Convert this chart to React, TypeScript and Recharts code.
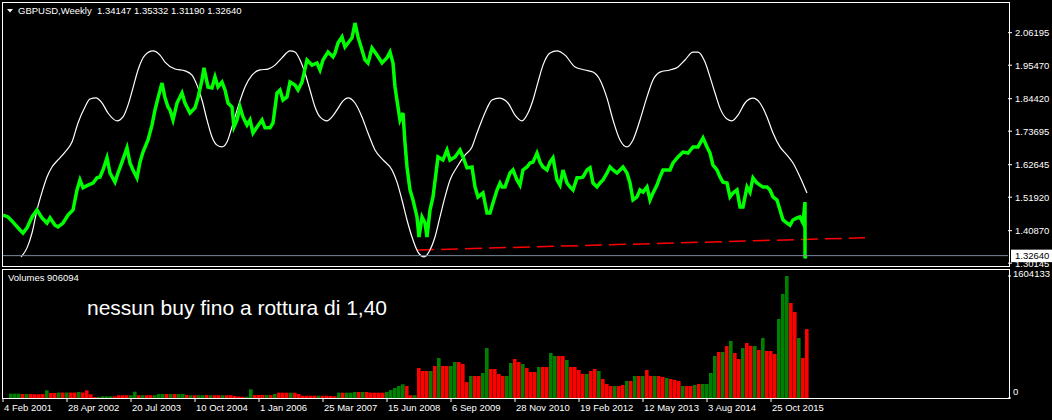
import { ComposedChart, Line, Bar, Cell, XAxis, YAxis, ReferenceLine } from "recharts";

const FONT = "'Liberation Sans', Arial, sans-serif";
const SMALL = 9.5;

// weekly GBPUSD closes, x = weeks since 4 Feb 2001
const priceWeek = [
  0, 5, 10, 17, 20, 24, 29, 34, 39, 44, 47, 52, 55, 60, 65, 70, 74, 77, 80, 85,
  90, 94, 97, 100, 104, 107, 112, 115, 119, 124, 127, 130, 134, 137, 140, 145, 149, 152, 155, 159,
  162, 165, 167, 170, 174, 179, 182, 187, 192, 195, 199, 201, 205, 209, 212, 215, 219, 222, 225, 229,
  231, 234, 237, 240, 244, 247, 250, 254, 259, 262, 267, 270, 274, 277, 280, 284, 287, 292, 295, 299,
  304, 309, 314, 317, 320, 325, 330, 332, 335, 339, 342, 345, 349, 352, 355, 359, 362, 365, 369, 374,
  379, 384, 387, 390, 392, 395, 397, 400, 402, 404, 407, 410, 414, 416, 419, 422, 424, 427, 430, 433,
  435, 440, 444, 447, 452, 457, 460, 464, 469, 472, 475, 480, 484, 487, 490, 494, 497, 499, 502, 507,
  510, 514, 517, 520, 524, 527, 530, 534, 537, 540, 544, 547, 550, 554, 557, 560, 564, 567, 570, 574,
  577, 580, 584, 587, 590, 594, 597, 600, 604, 607, 610, 614, 617, 620, 624, 627, 630, 634, 637, 640,
  644, 647, 650, 654, 657, 660, 667, 670, 675, 680, 685, 690, 695, 700, 704, 707, 710, 714, 717, 720,
  724, 727, 730, 734, 737, 740, 744, 747, 750, 754, 757, 760, 764, 767, 770, 774, 777, 780, 784, 787,
  790, 794, 797, 800, 802, 802, 803,
];
const priceClose = [
  1.460, 1.454, 1.437, 1.411, 1.401, 1.418, 1.454, 1.477, 1.451, 1.434, 1.451, 1.427, 1.421, 1.434, 1.460, 1.477, 1.543, 1.576, 1.550, 1.559,
  1.566, 1.583, 1.586, 1.609, 1.649, 1.599, 1.569, 1.599, 1.635, 1.682, 1.632, 1.609, 1.583, 1.635, 1.668, 1.708, 1.757, 1.807, 1.847, 1.896,
  1.847, 1.817, 1.807, 1.774, 1.830, 1.863, 1.830, 1.797, 1.814, 1.847, 1.906, 1.946, 1.883, 1.880, 1.916, 1.883, 1.899, 1.873, 1.830, 1.817,
  1.751, 1.774, 1.817, 1.784, 1.757, 1.774, 1.731, 1.751, 1.774, 1.748, 1.748, 1.764, 1.863, 1.873, 1.840, 1.850, 1.899, 1.889, 1.873, 1.899,
  1.972, 1.955, 1.962, 1.939, 1.972, 1.998, 1.982, 1.995, 2.028, 2.048, 2.015, 2.028, 2.045, 2.094, 2.048, 2.005, 1.972, 1.962, 2.011, 1.988,
  1.962, 1.979, 1.998, 1.962, 1.883, 1.817, 1.774, 1.797, 1.698, 1.619, 1.543, 1.510, 1.454, 1.388, 1.454, 1.434, 1.388, 1.477, 1.520, 1.599,
  1.652, 1.642, 1.675, 1.642, 1.652, 1.675, 1.652, 1.616, 1.619, 1.553, 1.520, 1.533, 1.467, 1.467, 1.500, 1.543, 1.566, 1.553, 1.553, 1.599,
  1.609, 1.576, 1.559, 1.609, 1.619, 1.632, 1.635, 1.665, 1.635, 1.619, 1.609, 1.635, 1.649, 1.576, 1.559, 1.609, 1.566, 1.553, 1.543, 1.583,
  1.583, 1.586, 1.609, 1.616, 1.566, 1.553, 1.566, 1.576, 1.599, 1.619, 1.609, 1.599, 1.609, 1.619, 1.599, 1.566, 1.510, 1.520, 1.543, 1.536,
  1.553, 1.510, 1.533, 1.559, 1.586, 1.609, 1.609, 1.632, 1.652, 1.668, 1.665, 1.685, 1.685, 1.715, 1.685, 1.665, 1.625, 1.609, 1.586, 1.569,
  1.566, 1.520, 1.533, 1.543, 1.487, 1.487, 1.553, 1.536, 1.583, 1.566, 1.559, 1.553, 1.553, 1.543, 1.520, 1.510, 1.477, 1.444, 1.434, 1.427,
  1.444, 1.451, 1.454, 1.434, 1.503, 1.318, 1.326,
];

// white cycle indicator
const cycleWeek = [
  18, 24, 29, 34, 39, 44, 49, 55, 62, 69, 75, 82, 87, 93, 99, 105, 114, 120, 125, 130,
  135, 142, 150, 157, 162, 172, 182, 189, 194, 199, 204, 209, 214, 219, 224, 229, 235, 242, 249, 257,
  265, 272, 279, 287, 292, 297, 302, 307, 312, 317, 324, 329, 334, 340, 345, 352, 359, 365, 372, 380,
  389, 394, 399, 404, 409, 415, 421, 427, 432, 437, 442, 447, 454, 462, 469, 474, 479, 484, 489, 496,
  505, 512, 519, 525, 530, 535, 540, 547, 554, 562, 572, 582, 590, 597, 604, 610, 617, 624, 630, 637,
  644, 650, 657, 667, 675, 682, 690, 695, 702, 707, 712, 717, 724, 729, 735, 742, 750, 757, 764, 770,
  777, 784, 790, 797, 804,
];
const cycleValue = [
  1.322, 1.352, 1.401, 1.477, 1.536, 1.586, 1.619, 1.642, 1.668, 1.701, 1.764, 1.817, 1.843, 1.847, 1.830, 1.797, 1.771, 1.784, 1.823, 1.880,
  1.939, 1.988, 2.002, 1.988, 1.965, 1.942, 1.936, 1.922, 1.889, 1.840, 1.774, 1.718, 1.691, 1.685, 1.701, 1.751, 1.817, 1.883, 1.922, 1.939,
  1.942, 1.955, 1.979, 2.002, 1.998, 1.972, 1.929, 1.873, 1.817, 1.784, 1.771, 1.784, 1.807, 1.837, 1.847, 1.830, 1.784, 1.731, 1.675, 1.642,
  1.609, 1.569, 1.510, 1.444, 1.388, 1.338, 1.322, 1.345, 1.388, 1.454, 1.520, 1.576, 1.619, 1.658, 1.685, 1.731, 1.774, 1.813, 1.840, 1.846,
  1.830, 1.790, 1.771, 1.797, 1.840, 1.899, 1.955, 1.995, 2.002, 1.988, 1.949, 1.939, 1.932, 1.906, 1.846, 1.774, 1.708, 1.685, 1.708, 1.774,
  1.850, 1.906, 1.932, 1.939, 1.949, 1.972, 1.998, 1.998, 1.965, 1.916, 1.863, 1.813, 1.777, 1.771, 1.790, 1.830, 1.846, 1.830, 1.784, 1.731,
  1.685, 1.658, 1.632, 1.586, 1.533,
];

// red dashed support line
const trendWeek = [414, 862];
const trendValue = [1.3448, 1.3854];

const lastPrice = 1.3264;
const priceTicks = [1.30145, 1.4087, 1.5192, 1.62645, 1.73695, 1.8442, 1.9547, 2.06195];

// weekly volume, one value every 4 weeks
const volumes = [
  0, 0, 57000, 57000, 57000, 53000, 53000, 53000, 49000, 49000,
  53000, 101000, 66000, 66000, 72000, 72000, 72000, 72000, 72000, 79000,
  72000, 101000, 49000, 13000, 13000, 22000, 22000, 22000, 22000, 36000,
  36000, 36000, 36000, 83000, 36000, 36000, 36000, 36000, 36000, 53000,
  53000, 53000, 53000, 53000, 53000, 53000, 39000, 36000, 36000, 36000,
  36000, 39000, 36000, 36000, 36000, 36000, 36000, 36000, 26000, 20000,
  17000, 17000, 114000, 39000, 39000, 39000, 39000, 39000, 53000, 70000,
  70000, 70000, 70000, 70000, 53000, 30000, 30000, 30000, 30000, 30000,
  30000, 30000, 26000, 22000, 70000, 70000, 70000, 70000, 79000, 79000,
  79000, 79000, 70000, 70000, 70000, 70000, 79000, 105000, 131000, 158000,
  180000, 158000, 36000, 36000, 394000, 355000, 355000, 355000, 421000, 526000,
  421000, 421000, 421000, 473000, 473000, 447000, 210000, 289000, 289000, 289000,
  329000, 657000, 381000, 381000, 316000, 289000, 289000, 460000, 513000, 473000,
  447000, 394000, 342000, 342000, 408000, 408000, 408000, 592000, 552000, 552000,
  552000, 500000, 408000, 408000, 368000, 316000, 316000, 355000, 381000, 355000,
  250000, 184000, 158000, 158000, 158000, 171000, 224000, 224000, 289000, 289000,
  289000, 368000, 289000, 289000, 289000, 276000, 263000, 250000, 237000, 224000,
  158000, 158000, 158000, 171000, 184000, 184000, 184000, 329000, 552000, 605000,
  605000, 684000, 750000, 592000, 513000, 657000, 723000, 684000, 684000, 631000,
  789000, 618000, 618000, 579000, 1039000, 1368000, 1604133, 1249000, 1131000, 789000,
  526000, 906094,
];
// 1 = up week (green), 0 = down week (red)
const volumeUp = [
  1, 1, 1, 1, 1, 0, 1, 0, 0, 0,
  0, 1, 0, 0, 1, 0, 1, 0, 0, 1,
  0, 0, 0, 0, 1, 1, 1, 1, 0, 0,
  0, 0, 1, 1, 0, 1, 0, 0, 1, 1,
  1, 0, 1, 0, 1, 1, 0, 1, 0, 1,
  1, 0, 1, 0, 0, 1, 0, 0, 0, 0,
  0, 1, 1, 0, 0, 0, 1, 0, 1, 0,
  0, 0, 1, 0, 0, 0, 0, 0, 0, 1,
  0, 0, 0, 0, 1, 0, 1, 1, 1, 0,
  1, 0, 0, 0, 0, 0, 1, 1, 1, 1,
  1, 0, 0, 1, 0, 0, 0, 1, 0, 1,
  0, 0, 1, 1, 0, 0, 0, 1, 0, 0,
  1, 1, 0, 0, 0, 0, 1, 1, 0, 0,
  1, 0, 0, 0, 1, 0, 0, 1, 1, 0,
  0, 1, 0, 0, 0, 0, 1, 0, 0, 1,
  0, 0, 0, 1, 0, 0, 1, 0, 1, 0,
  1, 0, 0, 1, 0, 0, 1, 0, 0, 0,
  1, 0, 0, 1, 0, 1, 1, 1, 1, 0,
  1, 0, 1, 0, 0, 1, 0, 0, 1, 0,
  1, 0, 0, 0, 1, 1, 1, 0, 0, 1,
  0, 0,
];
const volumeMax = 1604133;

const dateTickWeeks = [0, 64, 128, 192, 256, 320, 384, 448, 512, 576, 640, 704, 768];
const dateTickLabels = [
  "4 Feb 2001", "28 Apr 2002", "20 Jul 2003", "10 Oct 2004", "1 Jan 2006", "25 Mar 2007", "15 Jun 2008",
  "6 Sep 2009", "28 Nov 2010", "19 Feb 2012", "12 May 2013", "3 Aug 2014", "25 Oct 2015",
];

const priceData = priceWeek.map((week, i) => ({ week, price: priceClose[i] }));
const cycleData = cycleWeek.map((week, i) => ({ week, price: cycleValue[i] }));
const trendData = trendWeek.map((week, i) => ({ week, price: trendValue[i] }));
const volumeData = volumes.map((volume, i) => ({ week: i * 4, volume, up: volumeUp[i] === 1 }));

const WEEK_DOMAIN: [number, number] = [-1, 1005];

function PriceTag(props: any) {
  const { viewBox } = props;
  const right = viewBox.x + viewBox.width;
  return (
    <g>
      <rect x={right + 3} y={viewBox.y - 6} width={42} height={12.5} fill="#fff" />
      <text x={right + 7} y={viewBox.y} dy="0.355em" fill="#000" fontSize={SMALL} fontFamily={FONT}>
        {lastPrice.toFixed(5)}
      </text>
    </g>
  );
}

function DateTick(props: any) {
  const { x, y, payload } = props;
  const label = dateTickLabels[dateTickWeeks.indexOf(payload.value)];
  return (
    <text x={x + 1} y={y} dy="0.71em" fill="#fff" fontSize={SMALL} fontFamily={FONT}>
      {label}
    </text>
  );
}

function VolumeTick(props: any) {
  const { x, y, payload } = props;
  const shift = payload.value === 0 ? -6 : -2;
  return (
    <text x={x} y={y + shift} dy="0.355em" fill="#fff" fontSize={SMALL} fontFamily={FONT}>
      {payload.value}
    </text>
  );
}

export default function App() {
  return (
    <div style={{ position: "absolute", left: 0, top: 0, width: 1052, height: 420, background: "#000", overflow: "hidden" }}>
      <div style={{ position: "absolute", left: 0, top: 0 }}>
        <ComposedChart width={1052} height={268} margin={{ top: 3, right: 0, bottom: 2, left: 2 }}>
          <XAxis dataKey="week" type="number" domain={WEEK_DOMAIN} allowDataOverflow hide />
          <YAxis
            orientation="right"
            type="number"
            domain={[1.2922, 2.1599]}
            allowDataOverflow
            ticks={priceTicks}
            interval={0}
            tickFormatter={(v: number) => v.toFixed(5)}
            width={44}
            axisLine={false}
            tickLine={{ stroke: "#fff" }}
            tickSize={4}
            tickMargin={3}
            tick={{ fill: "#fff", fontSize: SMALL, fontFamily: FONT }}
          />
          <Line
            data={trendData}
            dataKey="price"
            stroke="#ff0000"
            strokeWidth={1.5}
            strokeDasharray="17 7"
            dot={false}
            isAnimationActive={false}
          />
          <Line
            data={cycleData}
            dataKey="price"
            type="monotone"
            stroke="#ffffff"
            strokeWidth={1.2}
            dot={false}
            isAnimationActive={false}
          />
          <Line
            data={priceData}
            dataKey="price"
            type="linear"
            stroke="#00ff00"
            strokeWidth={3.5}
            dot={false}
            isAnimationActive={false}
          />
          <ReferenceLine y={lastPrice} stroke="#778899" strokeWidth={1} label={<PriceTag />} />
        </ComposedChart>
      </div>

      <div style={{ position: "absolute", left: 0, top: 269 }}>
        <ComposedChart width={1052} height={151} data={volumeData} margin={{ top: 7, right: 0, bottom: 0, left: 2 }}>
          <XAxis
            dataKey="week"
            type="number"
            domain={WEEK_DOMAIN}
            allowDataOverflow
            ticks={dateTickWeeks}
            interval={0}
            height={22}
            axisLine={false}
            tickLine={{ stroke: "#fff" }}
            tickSize={4}
            tickMargin={2}
            tick={<DateTick />}
          />
          <YAxis
            orientation="right"
            type="number"
            domain={[0, volumeMax]}
            allowDataOverflow
            ticks={[0, volumeMax]}
            interval={0}
            width={44}
            axisLine={false}
            tickLine={{ stroke: "#fff" }}
            tickSize={3}
            tickMargin={2}
            tick={<VolumeTick />}
          />
          <Bar dataKey="volume" barSize={5} isAnimationActive={false}>
            {volumeData.map((d, i) => (
              <Cell key={i} fill={d.up ? "#008000" : "#ff0000"} />
            ))}
          </Bar>
        </ComposedChart>
      </div>

      {/* panel frames */}
      <div style={{ position: "absolute", left: 2, top: 2, width: 1008, height: 265, border: "1px solid #fff", boxSizing: "border-box", pointerEvents: "none" }} />
      <div style={{ position: "absolute", left: 2, top: 269, width: 1008, height: 130, border: "1px solid #fff", boxSizing: "border-box", pointerEvents: "none" }} />

      <svg width={1052} height={420} style={{ position: "absolute", left: 0, top: 0, pointerEvents: "none" }}>
        <polygon points="7,9 13,9 10,12.5" fill="#fff" />
        <text x={18} y={13.5} fill="#fff" fontSize={SMALL} fontFamily={FONT}>GBPUSD,Weekly</text>
        <text x={97} y={13.5} fill="#fff" fontSize={SMALL} fontFamily={FONT}>1.34147 1.35332 1.31190 1.32640</text>
        <text x={8} y={280.5} fill="#fff" fontSize={SMALL} fontFamily={FONT}>Volumes 906094</text>
        <text x={87} y={315} fill="#fff" fontSize={21} fontFamily={FONT}>
          nessun buy fino a rottura di 1,40
        </text>
      </svg>
    </div>
  );
}
